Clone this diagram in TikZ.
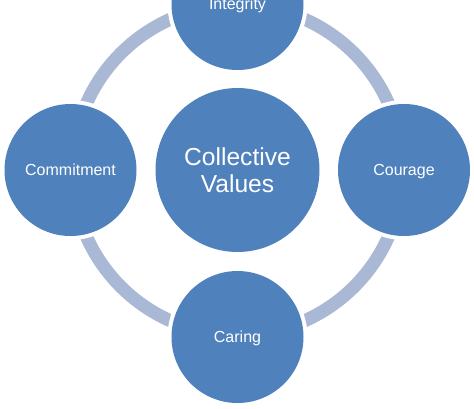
\documentclass[tikz,border=0pt]{standalone}
\usepackage{fontspec}
\setmainfont{Liberation Sans}
\definecolor{circblue}{RGB}{79,129,189}
\definecolor{ringblue}{RGB}{169,184,213}
\begin{document}
\begin{tikzpicture}[x=1pt,y=-1pt,
  value/.style={circle, fill=circblue, text=white, inner sep=0pt,
    preaction={draw=white, line width=8pt},
    minimum size=132pt, font={\fontsize{16}{19}\selectfont},
    text height=11.5pt, text depth=0pt},
  core/.style={circle, fill=circblue, text=white, inner sep=0pt,
    minimum size=164pt, align=center, font={\fontsize{24.6}{26.6}\selectfont},
    text height=44.2pt, text depth=0pt},
  ring/.style={draw=ringblue, line width=13pt}]
\useasboundingbox (0,0) rectangle (474,408);
\coordinate (o) at (237.5,170);
\draw[ring] (o) circle[radius=165pt];
\node[core] (cv) at (o) {Collective\\Values};
\node[value] (int) at (237.5,4) {Integrity};
\node[value] (cour) at (404,170) {Courage};
\node[value] (car) at (237.5,337) {Caring};
\node[value] (com) at (70.5,170) {Commitment};
\end{tikzpicture}
\end{document}
